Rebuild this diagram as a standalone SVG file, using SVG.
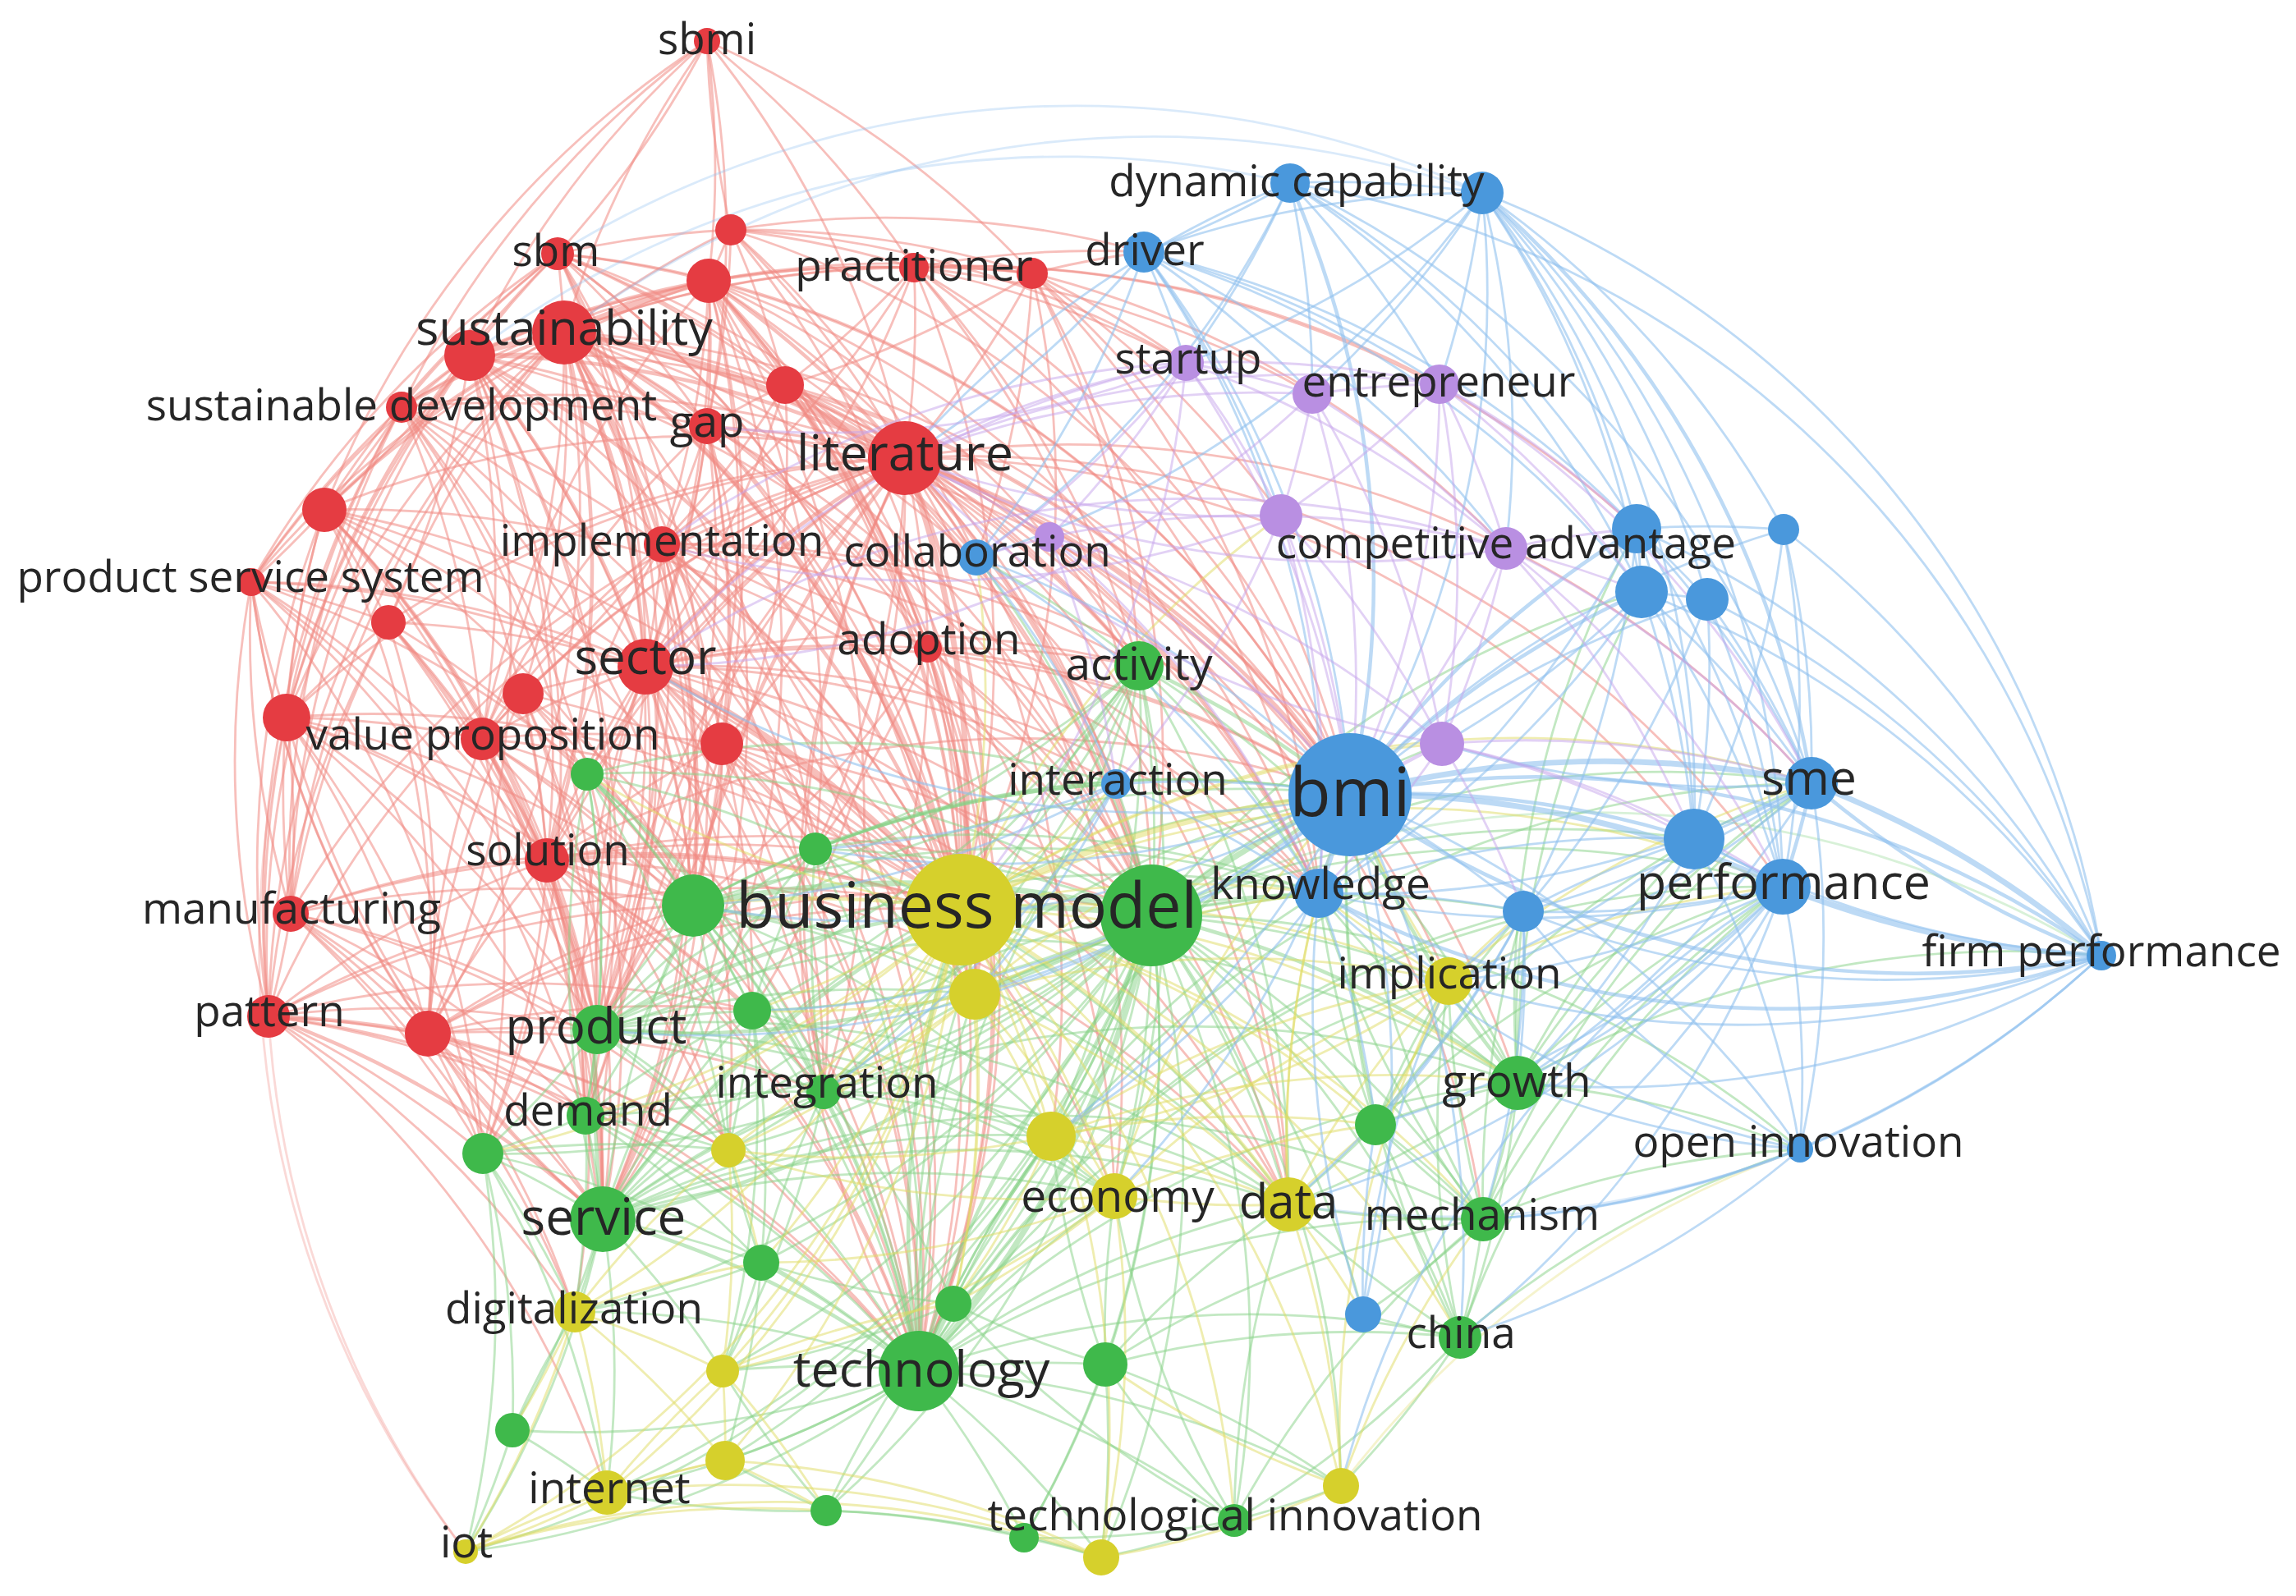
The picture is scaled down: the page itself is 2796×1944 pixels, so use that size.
<svg xmlns="http://www.w3.org/2000/svg" width="2796" height="1944" viewBox="0 0 2796 1944">
<style>
.e path{fill:none;stroke-width:2.8;stroke-opacity:.5}
.er path{stroke:#f08a84;stroke-opacity:.55}
.eg path{stroke:#86d286}
.eb path{stroke:#8dbfee;stroke-opacity:.58}
.ey path{stroke:#e0db62}
.ep path{stroke:#c6a3ec}
.e path.m{stroke-width:4.5}
.e path.h{stroke-width:7}
.e path.f{stroke-opacity:.32}
.nr{fill:#e53c42}.ng{fill:#3fb94b}.nb{fill:#4a98dc}.ny{fill:#d6d02c}.np{fill:#b98fe2}
text{font-family:"Open Sans","Noto Sans","DejaVu Sans",sans-serif;fill:#262626;text-anchor:middle;font-size:53px}
.t60{font-size:60px}.t55{font-size:55px}
</style>
<rect width="2796" height="1944" fill="#ffffff"/>
<g id="connectors">
<g class="e er">
<path d="M861 50A1200 1200 0 0 1 679 309"/><path d="M890 280A1200 1200 0 0 1 861 50"/><path d="M861 50A1200 1200 0 0 1 863 342"/><path d="M687 405A1200 1200 0 0 1 861 50"/><path d="M572 433A1200 1200 0 0 1 861 50"/><path d="M861 50A1200 1200 0 0 1 1113 326"/><path d="M861 50A1200 1200 0 0 1 1257 333"/><path d="M861 50A1200 1200 0 0 1 1102 558"/><path d="M861 50A1200 1200 0 0 1 861 519"/><path d="M395 621A1200 1200 0 0 1 861 50"/><path d="M489 496A1200 1200 0 0 1 861 50"/>
<path d="M679 309A1200 1200 0 0 1 687 405"/><path d="M572 433A1200 1200 0 0 1 679 309"/><path d="M679 309A1200 1200 0 0 1 863 342"/><path d="M679 309A1200 1200 0 0 1 890 280"/><path d="M489 496A1200 1200 0 0 1 679 309"/><path d="M679 309A1200 1200 0 0 1 861 519"/><path d="M679 309A1200 1200 0 0 1 1102 558"/><path d="M395 621A1200 1200 0 0 1 679 309"/><path d="M679 309A1200 1200 0 0 1 806 663"/><path d="M679 309A1200 1200 0 0 1 786 812"/><path d="M349 874A1200 1200 0 0 1 679 309"/><path d="M679 309A1200 1200 0 0 1 1170 1108"/><path d="M679 309A1200 1200 0 0 1 956 469"/><path d="M306 709A1200 1200 0 0 1 679 309"/>
<path d="M890 280A1200 1200 0 0 1 863 342"/><path d="M890 280A1200 1200 0 0 1 1113 326"/><path d="M890 280A1200 1200 0 0 1 1257 333"/><path d="M687 405A1200 1200 0 0 1 890 280"/><path d="M890 280A1200 1200 0 0 1 1102 558"/><path d="M890 280A1200 1200 0 0 1 956 469"/><path d="M890 280A1200 1200 0 0 1 861 519"/><path d="M890 280A1200 1200 0 0 1 1393 307"/>
<path class="h" d="M687 405A1200 1200 0 0 1 863 342"/><path class="m" d="M572 433A1200 1200 0 0 1 863 342"/><path class="m" d="M863 342A1200 1200 0 0 1 1102 558"/><path d="M863 342A1200 1200 0 0 1 861 519"/><path d="M863 342A1200 1200 0 0 1 956 469"/><path d="M863 342A1200 1200 0 0 1 1113 326"/><path d="M863 342A1200 1200 0 0 1 1257 333"/><path d="M863 342A1200 1200 0 0 1 806 663"/><path d="M863 342A1200 1200 0 0 1 786 812"/><path d="M863 342A1200 1200 0 0 1 1170 1108"/><path d="M395 621A1200 1200 0 0 1 863 342"/><path d="M489 496A1200 1200 0 0 1 863 342"/><path d="M863 342A1200 1200 0 0 1 1130 790"/><path d="M863 342A1200 1200 0 0 1 879 906"/><path d="M587 900A1200 1200 0 0 1 863 342"/><path d="M863 342A1200 1200 0 0 1 1402 1115"/><path d="M863 342A1200 1200 0 0 1 1644 968"/>
<path d="M1113 326A1200 1200 0 0 1 1257 333"/><path d="M1113 326A1200 1200 0 0 1 1102 558"/><path d="M1113 326A1200 1200 0 0 1 956 469"/><path d="M687 405A1200 1200 0 0 1 1113 326"/><path d="M572 433A1200 1200 0 0 1 1113 326"/><path d="M1113 326A1200 1200 0 0 1 1170 1108"/><path d="M1113 326A1200 1200 0 0 1 1644 968"/><path d="M1113 326A1200 1200 0 0 1 806 663"/><path d="M1113 326A1200 1200 0 0 1 1393 307"/><path d="M1113 326A1200 1200 0 0 1 786 812"/><path d="M1113 326A1200 1200 0 0 1 1598 480"/>
<path d="M1257 333A1200 1200 0 0 1 1102 558"/><path d="M1257 333A1200 1200 0 0 1 956 469"/><path d="M687 405A1200 1200 0 0 1 1257 333"/><path d="M1257 333A1200 1200 0 0 1 1170 1108"/><path d="M1257 333A1200 1200 0 0 1 1644 968"/><path d="M1257 333A1200 1200 0 0 1 1393 307"/><path d="M1257 333A1200 1200 0 0 1 1189 679"/><path d="M1257 333A1200 1200 0 0 1 1444 442"/>
<path class="h" d="M572 433A1200 1200 0 0 1 687 405"/><path d="M489 496A1200 1200 0 0 1 572 433"/><path d="M572 433A1200 1200 0 0 1 395 621"/><path d="M306 709A1200 1200 0 0 1 572 433"/><path d="M349 874A1200 1200 0 0 1 572 433"/><path d="M572 433A1200 1200 0 0 1 861 519"/><path class="m" d="M572 433A1200 1200 0 0 1 1102 558"/><path d="M572 433A1200 1200 0 0 1 806 663"/><path class="m" d="M572 433A1200 1200 0 0 1 786 812"/><path d="M572 433A1200 1200 0 0 1 587 900"/><path d="M572 433A1200 1200 0 0 1 666 1048"/><path d="M354 1113A1200 1200 0 0 1 572 433"/><path d="M327 1238A1200 1200 0 0 1 572 433"/><path class="m" d="M572 433A1200 1200 0 0 1 1170 1108"/><path d="M572 433A1200 1200 0 0 1 473 758"/><path d="M572 433A1200 1200 0 0 1 521 1259"/>
<path class="m" d="M489 496A1200 1200 0 0 1 687 405"/><path d="M687 405A1200 1200 0 0 1 861 519"/><path class="h" d="M687 405A1200 1200 0 0 1 1102 558"/><path d="M687 405A1200 1200 0 0 1 956 469"/><path d="M395 621A1200 1200 0 0 1 687 405"/><path class="m" d="M687 405A1200 1200 0 0 1 806 663"/><path class="m" d="M687 405A1200 1200 0 0 1 786 812"/><path d="M473 758A1200 1200 0 0 1 687 405"/><path d="M687 405A1200 1200 0 0 1 637 845"/><path d="M349 874A1200 1200 0 0 1 687 405"/><path d="M687 405A1200 1200 0 0 1 587 900"/><path d="M687 405A1200 1200 0 0 1 879 906"/><path class="m" d="M687 405A1200 1200 0 0 1 666 1048"/><path d="M354 1113A1200 1200 0 0 1 687 405"/><path d="M327 1238A1200 1200 0 0 1 687 405"/><path d="M687 405A1200 1200 0 0 1 521 1259"/><path class="h" d="M687 405A1200 1200 0 0 1 1170 1108"/><path d="M687 405A1200 1200 0 0 1 1402 1115"/><path d="M687 405A1200 1200 0 0 1 1644 968"/><path d="M687 405A1200 1200 0 0 1 727 1254"/><path d="M687 405A1200 1200 0 0 1 1130 790"/><path d="M306 709A1200 1200 0 0 1 687 405"/>
<path d="M489 496A1200 1200 0 0 1 395 621"/><path d="M306 709A1200 1200 0 0 1 489 496"/><path d="M489 496A1200 1200 0 0 1 861 519"/><path d="M489 496A1200 1200 0 0 1 1102 558"/><path d="M349 874A1200 1200 0 0 1 489 496"/><path d="M489 496A1200 1200 0 0 1 786 812"/><path d="M489 496A1200 1200 0 0 1 587 900"/><path d="M489 496A1200 1200 0 0 1 666 1048"/><path d="M354 1113A1200 1200 0 0 1 489 496"/><path d="M327 1238A1200 1200 0 0 1 489 496"/><path d="M489 496A1200 1200 0 0 1 1170 1108"/>
<path d="M956 469A1200 1200 0 0 1 1102 558"/><path d="M861 519A1200 1200 0 0 1 956 469"/><path d="M956 469A1200 1200 0 0 1 806 663"/><path d="M956 469A1200 1200 0 0 1 786 812"/><path d="M956 469A1200 1200 0 0 1 1130 790"/><path d="M956 469A1200 1200 0 0 1 1170 1108"/><path d="M956 469A1200 1200 0 0 1 1644 968"/><path d="M956 469A1200 1200 0 0 1 1189 679"/>
<path d="M861 519A1200 1200 0 0 1 1102 558"/><path d="M861 519A1200 1200 0 0 1 806 663"/><path d="M861 519A1200 1200 0 0 1 786 812"/><path d="M861 519A1200 1200 0 0 1 879 906"/><path d="M861 519A1200 1200 0 0 1 1170 1108"/><path d="M587 900A1200 1200 0 0 1 861 519"/><path d="M861 519A1200 1200 0 0 1 666 1048"/>
<path d="M806 663A1200 1200 0 0 1 1102 558"/><path class="m" d="M786 812A1200 1200 0 0 1 1102 558"/><path d="M1102 558A1200 1200 0 0 1 1130 790"/><path d="M1102 558A1200 1200 0 0 1 879 906"/><path d="M587 900A1200 1200 0 0 1 1102 558"/><path d="M637 845A1200 1200 0 0 1 1102 558"/><path d="M666 1048A1200 1200 0 0 1 1102 558"/><path class="h" d="M1102 558A1200 1200 0 0 1 1170 1108"/><path class="m" d="M1102 558A1200 1200 0 0 1 1402 1115"/><path class="m" d="M1102 558A1200 1200 0 0 1 1644 968"/><path d="M1102 558A1200 1200 0 0 1 1189 679"/><path d="M1102 558A1200 1200 0 0 1 1387 811"/><path d="M395 621A1200 1200 0 0 1 1102 558"/><path d="M473 758A1200 1200 0 0 1 1102 558"/><path d="M349 874A1200 1200 0 0 1 1102 558"/><path d="M327 1238A1200 1200 0 0 1 1102 558"/><path d="M354 1113A1200 1200 0 0 1 1102 558"/><path d="M1119 1670A1200 1200 0 0 1 1102 558"/><path d="M734 1485A1200 1200 0 0 1 1102 558"/><path d="M1102 558A1200 1200 0 0 1 1606 1088"/>
<path d="M395 621A1200 1200 0 0 1 306 709"/><path d="M395 621A1200 1200 0 0 1 473 758"/><path d="M349 874A1200 1200 0 0 1 395 621"/><path d="M395 621A1200 1200 0 0 1 587 900"/><path d="M395 621A1200 1200 0 0 1 786 812"/><path d="M395 621A1200 1200 0 0 1 666 1048"/><path d="M354 1113A1200 1200 0 0 1 395 621"/><path d="M327 1238A1200 1200 0 0 1 395 621"/><path d="M395 621A1200 1200 0 0 1 521 1259"/><path d="M395 621A1200 1200 0 0 1 1170 1108"/>
<path d="M806 663A1200 1200 0 0 1 786 812"/><path d="M806 663A1200 1200 0 0 1 1130 790"/><path d="M806 663A1200 1200 0 0 1 637 845"/><path d="M587 900A1200 1200 0 0 1 806 663"/><path d="M806 663A1200 1200 0 0 1 879 906"/><path d="M666 1048A1200 1200 0 0 1 806 663"/><path d="M806 663A1200 1200 0 0 1 1170 1108"/><path d="M806 663A1200 1200 0 0 1 1402 1115"/><path d="M806 663A1200 1200 0 0 1 1644 968"/>
<path d="M306 709A1200 1200 0 0 1 473 758"/><path d="M349 874A1200 1200 0 0 1 306 709"/><path d="M354 1113A1200 1200 0 0 1 306 709"/><path d="M327 1238A1200 1200 0 0 1 306 709"/><path d="M306 709A1200 1200 0 0 1 666 1048"/><path d="M521 1259A1200 1200 0 0 1 306 709"/><path d="M734 1485A1200 1200 0 0 1 306 709"/><path d="M306 709A1200 1200 0 0 1 786 812"/>
<path d="M349 874A1200 1200 0 0 1 473 758"/><path d="M473 758A1200 1200 0 0 1 587 900"/><path d="M473 758A1200 1200 0 0 1 786 812"/><path d="M473 758A1200 1200 0 0 1 666 1048"/><path d="M354 1113A1200 1200 0 0 1 473 758"/><path d="M327 1238A1200 1200 0 0 1 473 758"/><path d="M473 758A1200 1200 0 0 1 521 1259"/>
<path d="M786 812A1200 1200 0 0 1 1130 790"/><path d="M637 845A1200 1200 0 0 1 786 812"/><path d="M587 900A1200 1200 0 0 1 786 812"/><path d="M786 812A1200 1200 0 0 1 879 906"/><path d="M666 1048A1200 1200 0 0 1 786 812"/><path class="h" d="M786 812A1200 1200 0 0 1 1170 1108"/><path d="M786 812A1200 1200 0 0 1 1402 1115"/><path d="M786 812A1200 1200 0 0 1 1644 968"/><path d="M727 1254A1200 1200 0 0 1 786 812"/><path d="M734 1485A1200 1200 0 0 1 786 812"/><path d="M786 812A1200 1200 0 0 1 1119 1670"/><path d="M786 812A1200 1200 0 0 1 844 1103"/>
<path d="M637 845A1200 1200 0 0 1 587 900"/><path d="M637 845A1200 1200 0 0 1 666 1048"/><path d="M637 845A1200 1200 0 0 1 1170 1108"/><path d="M521 1259A1200 1200 0 0 1 637 845"/>
<path d="M349 874A1200 1200 0 0 1 354 1113"/><path d="M327 1238A1200 1200 0 0 1 349 874"/><path d="M349 874A1200 1200 0 0 1 666 1048"/><path d="M349 874A1200 1200 0 0 1 521 1259"/><path d="M349 874A1200 1200 0 0 1 587 900"/><path class="f" d="M567 1890A1200 1200 0 0 1 349 874"/><path d="M734 1485A1200 1200 0 0 1 349 874"/>
<path d="M587 900A1200 1200 0 0 1 666 1048"/><path d="M587 900A1200 1200 0 0 1 1170 1108"/><path d="M587 900A1200 1200 0 0 1 844 1103"/><path d="M587 900A1200 1200 0 0 1 727 1254"/><path d="M587 900A1200 1200 0 0 1 879 906"/><path d="M521 1259A1200 1200 0 0 1 587 900"/>
<path d="M879 906A1200 1200 0 0 1 1170 1108"/><path d="M666 1048A1200 1200 0 0 1 879 906"/><path d="M879 906A1200 1200 0 0 1 1402 1115"/><path d="M879 906A1200 1200 0 0 1 1119 1670"/>
<path class="m" d="M666 1048A1200 1200 0 0 1 844 1103"/><path class="m" d="M666 1048A1200 1200 0 0 1 1170 1108"/><path d="M666 1048A1200 1200 0 0 1 727 1254"/><path d="M521 1259A1200 1200 0 0 1 666 1048"/><path d="M666 1048A1200 1200 0 0 1 734 1485"/><path d="M666 1048A1200 1200 0 0 1 1119 1670"/><path d="M354 1113A1200 1200 0 0 1 666 1048"/><path d="M327 1238A1200 1200 0 0 1 666 1048"/>
<path d="M354 1113A1200 1200 0 0 1 327 1238"/><path d="M354 1113A1200 1200 0 0 1 521 1259"/><path d="M354 1113A1200 1200 0 0 1 1170 1108"/><path d="M354 1113A1200 1200 0 0 1 734 1485"/><path d="M354 1113A1200 1200 0 0 1 727 1254"/>
<path class="m" d="M327 1238A1200 1200 0 0 1 521 1259"/><path class="m" d="M327 1238A1200 1200 0 0 1 734 1485"/><path d="M327 1238A1200 1200 0 0 1 713 1359"/><path d="M327 1238A1200 1200 0 0 1 588 1405"/><path d="M327 1238A1200 1200 0 0 1 727 1254"/><path d="M327 1238A1200 1200 0 0 1 1170 1108"/><path d="M327 1238A1200 1200 0 0 1 1119 1670"/><path class="f" d="M567 1890A1200 1200 0 0 1 327 1238"/>
<path d="M521 1259A1200 1200 0 0 1 727 1254"/><path d="M521 1259A1200 1200 0 0 1 734 1485"/><path d="M521 1259A1200 1200 0 0 1 1170 1108"/><path d="M521 1259A1200 1200 0 0 1 844 1103"/><path d="M521 1259A1200 1200 0 0 1 713 1359"/><path d="M521 1259A1200 1200 0 0 1 1119 1670"/>
<path d="M1130 790A1200 1200 0 0 1 1170 1108"/><path d="M1130 790A1200 1200 0 0 1 1402 1115"/><path d="M1130 790A1200 1200 0 0 1 1644 968"/>
<path d="M863 342A1200 1200 0 0 1 1187 1211"/><path d="M863 342A1200 1200 0 0 1 727 1254"/><path d="M863 342A1200 1200 0 0 1 1119 1670"/><path d="M863 342A1200 1200 0 0 1 734 1485"/><path d="M863 342A1200 1200 0 0 1 1003 1330"/><path d="M863 342A1200 1200 0 0 1 1387 811"/><path d="M863 342A1200 1200 0 0 1 1606 1088"/><path d="M863 342A1200 1200 0 0 1 993 1034"/>
<path d="M687 405A1200 1200 0 0 1 844 1103"/><path d="M687 405A1200 1200 0 0 1 1187 1211"/><path d="M687 405A1200 1200 0 0 1 734 1485"/><path d="M687 405A1200 1200 0 0 1 1003 1330"/><path d="M687 405A1200 1200 0 0 1 1606 1088"/><path d="M687 405A1200 1200 0 0 1 1387 811"/><path d="M687 405A1200 1200 0 0 1 1569 1467"/><path d="M687 405A1200 1200 0 0 1 1357 1457"/><path d="M687 405A1200 1200 0 0 1 713 1359"/>
<path class="m" d="M1102 558A1200 1200 0 0 1 1187 1211"/><path d="M1102 558A1200 1200 0 0 1 916 1231"/><path d="M727 1254A1200 1200 0 0 1 1102 558"/><path d="M1003 1330A1200 1200 0 0 1 1102 558"/><path d="M1102 558A1200 1200 0 0 1 993 1034"/><path d="M715 943A1200 1200 0 0 1 1102 558"/><path class="m" d="M844 1103A1200 1200 0 0 1 1102 558"/><path d="M1102 558A1200 1200 0 0 1 1569 1467"/><path d="M1102 558A1200 1200 0 0 1 1357 1457"/><path d="M1102 558A1200 1200 0 0 1 1280 1384"/><path d="M1102 558A1200 1200 0 0 1 1359 955"/><path d="M1102 558A1200 1200 0 0 1 1848 1319"/><path d="M1102 558A1200 1200 0 0 1 1764 1195"/><path d="M1102 558A1200 1200 0 0 1 2206 954"/><path d="M1102 558A1200 1200 0 0 1 2171 1080"/><path d="M1102 558A1200 1200 0 0 1 2063 1022"/><path d="M1102 558A1200 1200 0 0 1 1806 1485"/>
<path d="M786 812A1200 1200 0 0 1 1187 1211"/><path d="M786 812A1200 1200 0 0 1 916 1231"/><path d="M786 812A1200 1200 0 0 1 1003 1330"/><path d="M786 812A1200 1200 0 0 1 993 1034"/><path d="M786 812A1200 1200 0 0 1 715 943"/><path d="M786 812A1200 1200 0 0 1 1569 1467"/><path d="M786 812A1200 1200 0 0 1 1357 1457"/><path d="M786 812A1200 1200 0 0 1 713 1359"/><path d="M786 812A1200 1200 0 0 1 588 1405"/><path d="M786 812A1200 1200 0 0 1 887 1401"/><path d="M786 812A1200 1200 0 0 1 1606 1088"/><path d="M786 812A1200 1200 0 0 1 1387 811"/><path d="M786 812A1200 1200 0 0 1 1359 955"/>
<path d="M806 663A1200 1200 0 0 1 1187 1211"/><path d="M806 663A1200 1200 0 0 1 727 1254"/><path d="M806 663A1200 1200 0 0 1 1003 1330"/><path d="M806 663A1200 1200 0 0 1 993 1034"/><path d="M806 663A1200 1200 0 0 1 844 1103"/><path d="M806 663A1200 1200 0 0 1 734 1485"/><path d="M806 663A1200 1200 0 0 1 1119 1670"/><path d="M806 663A1200 1200 0 0 1 1387 811"/><path d="M806 663A1200 1200 0 0 1 1606 1088"/>
<path d="M879 906A1200 1200 0 0 1 1187 1211"/><path d="M879 906A1200 1200 0 0 1 916 1231"/><path d="M879 906A1200 1200 0 0 1 727 1254"/><path d="M879 906A1200 1200 0 0 1 1003 1330"/><path d="M879 906A1200 1200 0 0 1 993 1034"/><path d="M879 906A1200 1200 0 0 1 844 1103"/><path d="M879 906A1200 1200 0 0 1 734 1485"/><path d="M879 906A1200 1200 0 0 1 1569 1467"/>
<path d="M956 469A1200 1200 0 0 1 1187 1211"/><path d="M956 469A1200 1200 0 0 1 1402 1115"/><path d="M956 469A1200 1200 0 0 1 727 1254"/><path d="M956 469A1200 1200 0 0 1 1387 811"/><path d="M956 469A1200 1200 0 0 1 1606 1088"/><path d="M956 469A1200 1200 0 0 1 1119 1670"/>
<path d="M861 519A1200 1200 0 0 1 844 1103"/><path d="M861 519A1200 1200 0 0 1 1402 1115"/><path d="M861 519A1200 1200 0 0 1 727 1254"/><path d="M861 519A1200 1200 0 0 1 1644 968"/><path d="M861 519A1200 1200 0 0 1 734 1485"/><path d="M861 519A1200 1200 0 0 1 1119 1670"/>
<path d="M1130 790A1200 1200 0 0 1 1187 1211"/><path d="M1130 790A1200 1200 0 0 1 993 1034"/><path d="M1130 790A1200 1200 0 0 1 844 1103"/><path d="M1130 790A1200 1200 0 0 1 1387 811"/><path d="M1130 790A1200 1200 0 0 1 1606 1088"/><path d="M1130 790A1200 1200 0 0 1 1003 1330"/><path d="M1130 790A1200 1200 0 0 1 1569 1467"/><path d="M1130 790A1200 1200 0 0 1 1119 1670"/>
<path d="M637 845A1200 1200 0 0 1 844 1103"/><path d="M637 845A1200 1200 0 0 1 727 1254"/><path d="M637 845A1200 1200 0 0 1 734 1485"/><path d="M637 845A1200 1200 0 0 1 715 943"/><path d="M637 845A1200 1200 0 0 1 1119 1670"/>
<path d="M587 900A1200 1200 0 0 1 734 1485"/><path d="M587 900A1200 1200 0 0 1 713 1359"/><path d="M587 900A1200 1200 0 0 1 588 1405"/><path d="M587 900A1200 1200 0 0 1 1119 1670"/><path d="M587 900A1200 1200 0 0 1 715 943"/><path d="M587 900A1200 1200 0 0 1 887 1401"/>
<path d="M666 1048A1200 1200 0 0 1 713 1359"/><path d="M666 1048A1200 1200 0 0 1 588 1405"/><path d="M666 1048A1200 1200 0 0 1 887 1401"/><path d="M666 1048A1200 1200 0 0 1 916 1231"/><path d="M666 1048A1200 1200 0 0 1 1003 1330"/><path d="M666 1048A1200 1200 0 0 1 993 1034"/><path d="M666 1048A1200 1200 0 0 1 1402 1115"/><path d="M666 1048A1200 1200 0 0 1 1569 1467"/><path d="M666 1048A1200 1200 0 0 1 1644 968"/><path d="M666 1048A1200 1200 0 0 1 700 1598"/>
<path d="M354 1113A1200 1200 0 0 1 713 1359"/><path d="M354 1113A1200 1200 0 0 1 588 1405"/><path d="M354 1113A1200 1200 0 0 1 844 1103"/><path d="M354 1113A1200 1200 0 0 1 1119 1670"/><path d="M354 1113A1200 1200 0 0 1 700 1598"/>
<path d="M327 1238A1200 1200 0 0 1 887 1401"/><path d="M327 1238A1200 1200 0 0 1 916 1231"/><path d="M327 1238A1200 1200 0 0 1 844 1103"/><path d="M327 1238A1200 1200 0 0 1 700 1598"/><path d="M327 1238A1200 1200 0 0 1 739 1818"/>
<path d="M521 1259A1200 1200 0 0 1 588 1405"/><path d="M521 1259A1200 1200 0 0 1 887 1401"/><path d="M521 1259A1200 1200 0 0 1 916 1231"/><path d="M521 1259A1200 1200 0 0 1 700 1598"/><path d="M521 1259A1200 1200 0 0 1 1003 1330"/><path d="M521 1259A1200 1200 0 0 1 1402 1115"/>
<path d="M395 621A1200 1200 0 0 1 727 1254"/><path d="M395 621A1200 1200 0 0 1 734 1485"/><path d="M395 621A1200 1200 0 0 1 844 1103"/><path d="M395 621A1200 1200 0 0 1 1402 1115"/><path d="M395 621A1200 1200 0 0 1 1119 1670"/>
<path d="M489 496A1200 1200 0 0 1 727 1254"/><path d="M489 496A1200 1200 0 0 1 734 1485"/><path d="M489 496A1200 1200 0 0 1 844 1103"/><path d="M489 496A1200 1200 0 0 1 1119 1670"/>
<path d="M473 758A1200 1200 0 0 1 727 1254"/><path d="M473 758A1200 1200 0 0 1 734 1485"/><path d="M473 758A1200 1200 0 0 1 844 1103"/>
<path d="M349 874A1200 1200 0 0 1 727 1254"/><path d="M349 874A1200 1200 0 0 1 713 1359"/><path d="M349 874A1200 1200 0 0 1 588 1405"/><path d="M349 874A1200 1200 0 0 1 1119 1670"/><path d="M349 874A1200 1200 0 0 1 844 1103"/><path d="M349 874A1200 1200 0 0 1 1170 1108"/>
<path d="M306 709A1200 1200 0 0 1 727 1254"/><path d="M306 709A1200 1200 0 0 1 713 1359"/><path d="M306 709A1200 1200 0 0 1 588 1405"/><path d="M306 709A1200 1200 0 0 1 1170 1108"/><path d="M306 709A1200 1200 0 0 1 1119 1670"/>
<path d="M1113 326A1200 1200 0 0 1 1402 1115"/><path d="M1113 326A1200 1200 0 0 1 1387 811"/><path d="M1113 326A1200 1200 0 0 1 1606 1088"/><path d="M1113 326A1200 1200 0 0 1 1444 442"/><path d="M1113 326A1200 1200 0 0 1 1753 468"/><path d="M1113 326A1200 1200 0 0 1 1993 644"/>
<path d="M1257 333A1200 1200 0 0 1 1387 811"/><path d="M1257 333A1200 1200 0 0 1 1560 628"/><path d="M1257 333A1200 1200 0 0 1 1834 668"/><path d="M1257 333A1200 1200 0 0 1 1606 1088"/><path d="M1257 333A1200 1200 0 0 1 1402 1115"/>
<path d="M679 309A1200 1200 0 0 1 727 1254"/><path d="M679 309A1200 1200 0 0 1 734 1485"/><path d="M679 309A1200 1200 0 0 1 1119 1670"/><path d="M679 309A1200 1200 0 0 1 1402 1115"/><path d="M679 309A1200 1200 0 0 1 1644 968"/>
<path d="M572 433A1200 1200 0 0 1 727 1254"/><path d="M572 433A1200 1200 0 0 1 713 1359"/><path d="M572 433A1200 1200 0 0 1 588 1405"/><path d="M572 433A1200 1200 0 0 1 1119 1670"/><path d="M572 433A1200 1200 0 0 1 844 1103"/><path d="M572 433A1200 1200 0 0 1 1644 968"/><path d="M572 433A1200 1200 0 0 1 1402 1115"/>
<path d="M890 280A1200 1200 0 0 1 1170 1108"/><path d="M890 280A1200 1200 0 0 1 1644 968"/><path d="M890 280A1200 1200 0 0 1 1189 679"/><path d="M890 280A1200 1200 0 0 1 1444 442"/>
</g>
<g class="e eg">
<path class="h" d="M844 1103A1200 1200 0 0 1 1402 1115"/><path class="m" d="M1402 1115A1200 1200 0 0 1 727 1254"/><path class="m" d="M1402 1115A1200 1200 0 0 1 734 1485"/><path class="h" d="M1402 1115A1200 1200 0 0 1 1119 1670"/><path d="M1387 811A1200 1200 0 0 1 1402 1115"/><path d="M1402 1115A1200 1200 0 0 1 1003 1330"/><path d="M1402 1115A1200 1200 0 0 1 713 1359"/><path d="M1402 1115A1200 1200 0 0 1 916 1231"/><path d="M993 1034A1200 1200 0 0 1 1402 1115"/><path d="M715 943A1200 1200 0 0 1 1402 1115"/><path d="M1402 1115A1200 1200 0 0 1 1187 1211"/><path d="M1402 1115A1200 1200 0 0 1 1280 1384"/><path d="M1402 1115A1200 1200 0 0 1 1357 1457"/><path d="M1402 1115A1200 1200 0 0 1 1569 1467"/><path class="m" d="M1402 1115A1200 1200 0 0 1 1848 1319"/><path d="M1402 1115A1200 1200 0 0 1 1806 1485"/><path d="M1402 1115A1200 1200 0 0 1 1778 1629"/><path d="M1402 1115A1200 1200 0 0 1 1675 1370"/><path d="M1402 1115A1200 1200 0 0 1 927 1538"/><path d="M1402 1115A1200 1200 0 0 1 1161 1588"/><path d="M1402 1115A1200 1200 0 0 1 1346 1662"/><path d="M1402 1115A1200 1200 0 0 1 700 1598"/><path d="M1402 1115A1200 1200 0 0 1 1503 1852"/><path d="M1402 1115A1200 1200 0 0 1 1006 1840"/><path d="M1402 1115A1200 1200 0 0 1 880 1670"/><path d="M1402 1115A1200 1200 0 0 1 1606 1088"/><path class="h" d="M1402 1115A1200 1200 0 0 1 1644 968"/><path d="M1402 1115A1200 1200 0 0 1 1764 1195"/><path d="M1359 955A1200 1200 0 0 1 1402 1115"/><path d="M1402 1115A1200 1200 0 0 1 2171 1080"/><path d="M1402 1115A1200 1200 0 0 1 2206 954"/><path class="h" d="M1170 1108A1200 1200 0 0 1 1402 1115"/>
<path d="M1402 1115A1200 1200 0 0 1 2063 1022"/><path d="M1402 1115A1200 1200 0 0 1 1855 1110"/><path class="f" d="M1402 1115A1200 1200 0 0 1 2559 1164"/><path d="M1402 1115A1200 1200 0 0 1 2192 1400"/><path d="M1402 1115A1200 1200 0 0 1 1999 721"/><path d="M1402 1115A1200 1200 0 0 1 1756 906"/><path d="M1402 1115A1200 1200 0 0 1 887 1401"/><path d="M1402 1115A1200 1200 0 0 1 588 1405"/><path d="M1402 1115A1200 1200 0 0 1 567 1890"/><path d="M1402 1115A1200 1200 0 0 1 739 1818"/><path d="M1402 1115A1200 1200 0 0 1 883 1779"/><path d="M1402 1115A1200 1200 0 0 1 1633 1810"/><path d="M1402 1115A1200 1200 0 0 1 1341 1897"/><path d="M1402 1115A1200 1200 0 0 1 1247 1873"/><path d="M1402 1115A1200 1200 0 0 1 1660 1601"/><path d="M1189 679A1200 1200 0 0 1 1402 1115"/>
<path class="m" d="M734 1485A1200 1200 0 0 1 1119 1670"/><path d="M727 1254A1200 1200 0 0 1 1119 1670"/><path d="M700 1598A1200 1200 0 0 1 1119 1670"/><path d="M1119 1670A1200 1200 0 0 1 739 1818"/><path d="M1119 1670A1200 1200 0 0 1 567 1890"/><path d="M1119 1670A1200 1200 0 0 1 624 1742"/><path d="M1119 1670A1200 1200 0 0 1 883 1779"/><path d="M1119 1670A1200 1200 0 0 1 1006 1840"/><path d="M1119 1670A1200 1200 0 0 1 1247 1873"/><path d="M1119 1670A1200 1200 0 0 1 1341 1897"/><path d="M1119 1670A1200 1200 0 0 1 1503 1852"/><path d="M1119 1670A1200 1200 0 0 1 1633 1810"/><path d="M1119 1670A1200 1200 0 0 1 1346 1662"/><path d="M1119 1670A1200 1200 0 0 1 1778 1629"/><path d="M1119 1670A1200 1200 0 0 1 1806 1485"/><path d="M1119 1670A1200 1200 0 0 1 1569 1467"/><path d="M1119 1670A1200 1200 0 0 1 1357 1457"/><path d="M927 1538A1200 1200 0 0 1 1119 1670"/><path d="M1161 1588A1200 1200 0 0 1 1119 1670"/><path d="M880 1670A1200 1200 0 0 1 1119 1670"/><path d="M713 1359A1200 1200 0 0 1 1119 1670"/><path d="M588 1405A1200 1200 0 0 1 1119 1670"/><path d="M1003 1330A1200 1200 0 0 1 1119 1670"/><path class="m" d="M1119 1670A1200 1200 0 0 1 1644 968"/><path d="M1119 1670A1200 1200 0 0 1 1848 1319"/><path d="M844 1103A1200 1200 0 0 1 1119 1670"/><path class="m" d="M1119 1670A1200 1200 0 0 1 1170 1108"/><path d="M1119 1670A1200 1200 0 0 1 1606 1088"/>
<path d="M1119 1670A1200 1200 0 0 1 2171 1080"/><path d="M1119 1670A1200 1200 0 0 1 2206 954"/><path d="M1119 1670A1200 1200 0 0 1 1855 1110"/><path d="M1119 1670A1200 1200 0 0 1 1764 1195"/><path d="M1119 1670A1200 1200 0 0 1 1280 1384"/><path d="M1119 1670A1200 1200 0 0 1 1187 1211"/><path d="M916 1231A1200 1200 0 0 1 1119 1670"/><path d="M993 1034A1200 1200 0 0 1 1119 1670"/><path d="M715 943A1200 1200 0 0 1 1119 1670"/><path d="M1119 1670A1200 1200 0 0 1 1387 811"/><path d="M1119 1670A1200 1200 0 0 1 1359 955"/>
<path class="m" d="M734 1485A1200 1200 0 0 1 727 1254"/><path d="M713 1359A1200 1200 0 0 1 734 1485"/><path d="M588 1405A1200 1200 0 0 1 734 1485"/><path d="M734 1485A1200 1200 0 0 1 700 1598"/><path d="M734 1485A1200 1200 0 0 1 887 1401"/><path d="M734 1485A1200 1200 0 0 1 927 1538"/><path d="M734 1485A1200 1200 0 0 1 739 1818"/><path d="M734 1485A1200 1200 0 0 1 567 1890"/><path d="M734 1485A1200 1200 0 0 1 624 1742"/><path d="M734 1485A1200 1200 0 0 1 880 1670"/><path d="M734 1485A1200 1200 0 0 1 1003 1330"/><path d="M734 1485A1200 1200 0 0 1 916 1231"/><path d="M734 1485A1200 1200 0 0 1 844 1103"/><path d="M734 1485A1200 1200 0 0 1 715 943"/><path class="m" d="M734 1485A1200 1200 0 0 1 1170 1108"/><path d="M734 1485A1200 1200 0 0 1 1644 968"/><path d="M734 1485A1200 1200 0 0 1 1569 1467"/>
<path d="M734 1485A1200 1200 0 0 1 1606 1088"/><path d="M734 1485A1200 1200 0 0 1 1848 1319"/><path d="M734 1485A1200 1200 0 0 1 1357 1457"/><path d="M734 1485A1200 1200 0 0 1 1280 1384"/><path d="M734 1485A1200 1200 0 0 1 1187 1211"/><path d="M734 1485A1200 1200 0 0 1 993 1034"/><path d="M734 1485A1200 1200 0 0 1 1806 1485"/>
<path d="M727 1254A1200 1200 0 0 1 713 1359"/><path d="M727 1254A1200 1200 0 0 1 588 1405"/><path d="M727 1254A1200 1200 0 0 1 916 1231"/><path d="M727 1254A1200 1200 0 0 1 1003 1330"/><path d="M727 1254A1200 1200 0 0 1 887 1401"/><path d="M727 1254A1200 1200 0 0 1 844 1103"/><path d="M715 943A1200 1200 0 0 1 727 1254"/><path d="M727 1254A1200 1200 0 0 1 993 1034"/><path class="m" d="M727 1254A1200 1200 0 0 1 1170 1108"/><path d="M727 1254A1200 1200 0 0 1 1644 968"/>
<path d="M727 1254A1200 1200 0 0 1 1606 1088"/><path d="M727 1254A1200 1200 0 0 1 1569 1467"/><path d="M727 1254A1200 1200 0 0 1 1357 1457"/><path d="M727 1254A1200 1200 0 0 1 1280 1384"/><path d="M727 1254A1200 1200 0 0 1 1187 1211"/><path d="M727 1254A1200 1200 0 0 1 1848 1319"/>
<path d="M844 1103A1200 1200 0 0 1 1606 1088"/><path d="M844 1103A1200 1200 0 0 1 1644 968"/><path d="M844 1103A1200 1200 0 0 1 1569 1467"/><path d="M844 1103A1200 1200 0 0 1 1357 1457"/><path d="M844 1103A1200 1200 0 0 1 1187 1211"/><path d="M844 1103A1200 1200 0 0 1 887 1401"/><path d="M844 1103A1200 1200 0 0 1 1359 955"/>
<path class="m" d="M1387 811A1200 1200 0 0 1 1644 968"/><path d="M1387 811A1200 1200 0 0 1 1606 1088"/><path d="M1387 811A1200 1200 0 0 1 1003 1330"/><path d="M1387 811A1200 1200 0 0 1 993 1034"/><path d="M1189 679A1200 1200 0 0 1 1387 811"/><path d="M1387 811A1200 1200 0 0 1 1359 955"/><path d="M1387 811A1200 1200 0 0 1 1170 1108"/>
<path d="M1387 811A1200 1200 0 0 1 1569 1467"/><path d="M1387 811A1200 1200 0 0 1 1357 1457"/><path d="M1387 811A1200 1200 0 0 1 1187 1211"/><path d="M1387 811A1200 1200 0 0 1 1280 1384"/><path d="M1387 811A1200 1200 0 0 1 1848 1319"/><path d="M1387 811A1200 1200 0 0 1 844 1103"/><path d="M1387 811A1200 1200 0 0 1 916 1231"/><path d="M1387 811A1200 1200 0 0 1 727 1254"/>
<path d="M1003 1330A1200 1200 0 0 1 1644 968"/><path d="M1003 1330A1200 1200 0 0 1 1606 1088"/><path d="M1003 1330A1200 1200 0 0 1 1569 1467"/><path d="M1003 1330A1200 1200 0 0 1 1357 1457"/><path d="M1003 1330A1200 1200 0 0 1 1280 1384"/><path d="M1003 1330A1200 1200 0 0 1 1161 1588"/><path d="M1003 1330A1200 1200 0 0 1 880 1670"/>
<path d="M916 1231A1200 1200 0 0 1 887 1401"/><path d="M916 1231A1200 1200 0 0 1 993 1034"/><path d="M916 1231A1200 1200 0 0 1 927 1538"/><path d="M916 1231A1200 1200 0 0 1 880 1670"/><path d="M916 1231A1200 1200 0 0 1 1357 1457"/>
<path d="M993 1034A1200 1200 0 0 1 1606 1088"/><path d="M993 1034A1200 1200 0 0 1 1569 1467"/><path d="M993 1034A1200 1200 0 0 1 1187 1211"/><path d="M993 1034A1200 1200 0 0 1 1359 955"/><path d="M993 1034A1200 1200 0 0 1 1644 968"/>
<path d="M715 943A1200 1200 0 0 1 887 1401"/><path d="M715 943A1200 1200 0 0 1 916 1231"/><path d="M715 943A1200 1200 0 0 1 713 1359"/><path d="M715 943A1200 1200 0 0 1 993 1034"/><path d="M715 943A1200 1200 0 0 1 1003 1330"/><path d="M715 943A1200 1200 0 0 1 1359 955"/>
<path d="M713 1359A1200 1200 0 0 1 588 1405"/><path d="M713 1359A1200 1200 0 0 1 887 1401"/><path d="M713 1359A1200 1200 0 0 1 916 1231"/><path d="M713 1359A1200 1200 0 0 1 1003 1330"/><path d="M713 1359A1200 1200 0 0 1 927 1538"/><path d="M713 1359A1200 1200 0 0 1 700 1598"/>
<path d="M588 1405A1200 1200 0 0 1 887 1401"/><path d="M588 1405A1200 1200 0 0 1 700 1598"/><path d="M588 1405A1200 1200 0 0 1 624 1742"/><path d="M588 1405A1200 1200 0 0 1 739 1818"/><path d="M588 1405A1200 1200 0 0 1 567 1890"/>
<path d="M1848 1319A1200 1200 0 0 1 1806 1485"/><path d="M1848 1319A1200 1200 0 0 1 1778 1629"/><path d="M1675 1370A1200 1200 0 0 1 1848 1319"/><path d="M1848 1319A1200 1200 0 0 1 1569 1467"/><path d="M1764 1195A1200 1200 0 0 1 1848 1319"/><path class="m" d="M1848 1319A1200 1200 0 0 1 1644 968"/><path d="M1848 1319A1200 1200 0 0 1 2171 1080"/><path d="M1848 1319A1200 1200 0 0 1 2206 954"/><path d="M1848 1319A1200 1200 0 0 1 2192 1400"/><path d="M1848 1319A1200 1200 0 0 1 2559 1164"/><path d="M1848 1319A1200 1200 0 0 1 2063 1022"/><path d="M1848 1319A1200 1200 0 0 1 1606 1088"/>
<path d="M1848 1319A1200 1200 0 0 1 1855 1110"/><path d="M1848 1319A1200 1200 0 0 1 1999 721"/><path d="M1848 1319A1200 1200 0 0 1 1993 644"/>
<path d="M1806 1485A1200 1200 0 0 1 1778 1629"/><path d="M1806 1485A1200 1200 0 0 1 1569 1467"/><path d="M1806 1485A1200 1200 0 0 1 1675 1370"/><path d="M1806 1485A1200 1200 0 0 1 1764 1195"/><path d="M1806 1485A1200 1200 0 0 1 1644 968"/><path d="M1806 1485A1200 1200 0 0 1 2171 1080"/><path d="M1806 1485A1200 1200 0 0 1 1660 1601"/>
<path d="M1806 1485A1200 1200 0 0 1 2206 954"/><path d="M1806 1485A1200 1200 0 0 1 1855 1110"/><path d="M1806 1485A1200 1200 0 0 1 1606 1088"/><path d="M1806 1485A1200 1200 0 0 1 2192 1400"/>
<path d="M1675 1370A1200 1200 0 0 1 1806 1485"/><path d="M1675 1370A1200 1200 0 0 1 1778 1629"/><path d="M1675 1370A1200 1200 0 0 1 2171 1080"/><path d="M1675 1370A1200 1200 0 0 1 2206 954"/><path d="M1675 1370A1200 1200 0 0 1 1855 1110"/><path d="M1675 1370A1200 1200 0 0 1 1606 1088"/>
<path d="M1778 1629A1200 1200 0 0 1 1660 1601"/><path d="M1778 1629A1200 1200 0 0 1 1569 1467"/><path d="M1778 1629A1200 1200 0 0 1 1633 1810"/><path d="M1778 1629A1200 1200 0 0 1 1503 1852"/><path d="M1778 1629A1200 1200 0 0 1 1764 1195"/><path d="M1778 1629A1200 1200 0 0 1 1644 968"/><path d="M1778 1629A1200 1200 0 0 1 2171 1080"/><path d="M1778 1629A1200 1200 0 0 1 2192 1400"/>
<path d="M1503 1852A1200 1200 0 0 1 1247 1873"/><path d="M1503 1852A1200 1200 0 0 1 1341 1897"/><path d="M1633 1810A1200 1200 0 0 1 1503 1852"/><path d="M1503 1852A1200 1200 0 0 1 1346 1662"/><path d="M1503 1852A1200 1200 0 0 1 1569 1467"/><path d="M1503 1852A1200 1200 0 0 1 1806 1485"/><path d="M1503 1852A1200 1200 0 0 1 1357 1457"/><path d="M1503 1852A1200 1200 0 0 1 1161 1588"/>
<path d="M844 1103A1200 1200 0 0 1 916 1231"/><path d="M844 1103A1200 1200 0 0 1 1003 1330"/><path d="M844 1103A1200 1200 0 0 1 993 1034"/><path d="M715 943A1200 1200 0 0 1 844 1103"/><path d="M844 1103A1200 1200 0 0 1 713 1359"/>
<path d="M1346 1662A1200 1200 0 0 1 1357 1457"/><path d="M1346 1662A1200 1200 0 0 1 1569 1467"/><path d="M1346 1662A1200 1200 0 0 1 1247 1873"/><path d="M1346 1662A1200 1200 0 0 1 1280 1384"/><path d="M1346 1662A1200 1200 0 0 1 1778 1629"/><path d="M1346 1662A1200 1200 0 0 1 1161 1588"/><path d="M1346 1662A1200 1200 0 0 1 1633 1810"/><path d="M1346 1662A1200 1200 0 0 1 1341 1897"/><path d="M1346 1662A1200 1200 0 0 1 1806 1485"/>
<path d="M1161 1588A1200 1200 0 0 1 927 1538"/><path d="M1161 1588A1200 1200 0 0 1 880 1670"/><path d="M1161 1588A1200 1200 0 0 1 1357 1457"/><path d="M1161 1588A1200 1200 0 0 1 1280 1384"/>
<path d="M927 1538A1200 1200 0 0 1 880 1670"/><path d="M927 1538A1200 1200 0 0 1 700 1598"/><path d="M927 1538A1200 1200 0 0 1 887 1401"/><path d="M927 1538A1200 1200 0 0 1 1003 1330"/><path d="M927 1538A1200 1200 0 0 1 883 1779"/>
<path d="M624 1742A1200 1200 0 0 1 739 1818"/><path d="M624 1742A1200 1200 0 0 1 567 1890"/><path d="M624 1742A1200 1200 0 0 1 700 1598"/>
<path d="M1006 1840A1200 1200 0 0 1 739 1818"/><path d="M1006 1840A1200 1200 0 0 1 883 1779"/><path d="M1006 1840A1200 1200 0 0 1 1247 1873"/><path d="M1006 1840A1200 1200 0 0 1 1341 1897"/><path d="M1006 1840A1200 1200 0 0 1 880 1670"/><path d="M1006 1840A1200 1200 0 0 1 1161 1588"/><path d="M1247 1873A1200 1200 0 0 1 1341 1897"/>
<path d="M1675 1370A1200 1200 0 0 1 1569 1467"/><path d="M1675 1370A1200 1200 0 0 1 1764 1195"/><path d="M1675 1370A1200 1200 0 0 1 1644 968"/>
<path d="M1003 1330A1200 1200 0 0 1 916 1231"/><path d="M1003 1330A1200 1200 0 0 1 887 1401"/><path d="M1003 1330A1200 1200 0 0 1 993 1034"/>
</g>
<g class="e ey">
<path class="m" d="M1170 1108A1200 1200 0 0 1 1569 1467"/><path d="M1170 1108A1200 1200 0 0 1 1357 1457"/><path d="M1170 1108A1200 1200 0 0 1 700 1598"/><path d="M1170 1108A1200 1200 0 0 1 739 1818"/><path d="M1170 1108A1200 1200 0 0 1 567 1890"/><path d="M1170 1108A1200 1200 0 0 1 1187 1211"/><path d="M1170 1108A1200 1200 0 0 1 887 1401"/><path d="M1170 1108A1200 1200 0 0 1 1280 1384"/><path d="M1170 1108A1200 1200 0 0 1 880 1670"/><path d="M1170 1108A1200 1200 0 0 1 883 1779"/><path d="M1170 1108A1200 1200 0 0 1 1633 1810"/><path d="M1170 1108A1200 1200 0 0 1 1341 1897"/><path d="M1170 1108A1200 1200 0 0 1 1764 1195"/><path class="h" d="M1170 1108A1200 1200 0 0 1 1644 968"/><path d="M1170 1108A1200 1200 0 0 1 1606 1088"/><path d="M1170 1108A1200 1200 0 0 1 916 1231"/><path d="M1170 1108A1200 1200 0 0 1 1003 1330"/><path d="M993 1034A1200 1200 0 0 1 1170 1108"/><path d="M1170 1108A1200 1200 0 0 1 1806 1485"/><path d="M1170 1108A1200 1200 0 0 1 1778 1629"/><path d="M1170 1108A1200 1200 0 0 1 1848 1319"/><path d="M1170 1108A1200 1200 0 0 1 1503 1852"/><path d="M1170 1108A1200 1200 0 0 1 1161 1588"/><path d="M1170 1108A1200 1200 0 0 1 927 1538"/><path d="M1170 1108A1200 1200 0 0 1 713 1359"/><path d="M1170 1108A1200 1200 0 0 1 588 1405"/><path d="M1170 1108A1200 1200 0 0 1 2206 954"/><path d="M1170 1108A1200 1200 0 0 1 2171 1080"/><path d="M1359 955A1200 1200 0 0 1 1170 1108"/><path d="M1189 679A1200 1200 0 0 1 1170 1108"/>
<path d="M1170 1108A1200 1200 0 0 1 715 943"/><path class="m" d="M844 1103A1200 1200 0 0 1 1170 1108"/><path d="M1170 1108A1200 1200 0 0 1 1675 1370"/><path d="M1170 1108A1200 1200 0 0 1 1560 628"/><path d="M1170 1108A1200 1200 0 0 1 1756 906"/>
<path d="M1187 1211A1200 1200 0 0 1 1280 1384"/><path d="M1187 1211A1200 1200 0 0 1 1357 1457"/><path d="M1187 1211A1200 1200 0 0 1 1569 1467"/><path d="M1187 1211A1200 1200 0 0 1 1003 1330"/><path d="M1187 1211A1200 1200 0 0 1 887 1401"/><path d="M1187 1211A1200 1200 0 0 1 916 1231"/><path d="M1187 1211A1200 1200 0 0 1 1161 1588"/><path d="M1187 1211A1200 1200 0 0 1 1764 1195"/><path d="M1187 1211A1200 1200 0 0 1 1606 1088"/><path d="M1187 1211A1200 1200 0 0 1 1644 968"/>
<path d="M1569 1467A1200 1200 0 0 1 1357 1457"/><path d="M1569 1467A1200 1200 0 0 1 1764 1195"/><path d="M1569 1467A1200 1200 0 0 1 1633 1810"/><path d="M1569 1467A1200 1200 0 0 1 1660 1601"/><path d="M1280 1384A1200 1200 0 0 1 1569 1467"/><path d="M1569 1467A1200 1200 0 0 1 1644 968"/><path d="M1569 1467A1200 1200 0 0 1 1606 1088"/><path d="M1569 1467A1200 1200 0 0 1 1675 1370"/>
<path d="M1357 1457A1200 1200 0 0 1 1280 1384"/><path d="M1357 1457A1200 1200 0 0 1 1341 1897"/><path d="M1357 1457A1200 1200 0 0 1 1161 1588"/><path d="M1357 1457A1200 1200 0 0 1 887 1401"/><path d="M1357 1457A1200 1200 0 0 1 927 1538"/><path d="M1357 1457A1200 1200 0 0 1 880 1670"/><path d="M1357 1457A1200 1200 0 0 1 1764 1195"/><path d="M1357 1457A1200 1200 0 0 1 1644 968"/><path d="M1357 1457A1200 1200 0 0 1 1675 1370"/>
<path d="M1280 1384A1200 1200 0 0 1 1764 1195"/><path d="M1280 1384A1200 1200 0 0 1 1675 1370"/><path d="M1280 1384A1200 1200 0 0 1 1848 1319"/><path d="M1280 1384A1200 1200 0 0 1 1161 1588"/><path d="M1280 1384A1200 1200 0 0 1 887 1401"/>
<path d="M700 1598A1200 1200 0 0 1 739 1818"/><path d="M700 1598A1200 1200 0 0 1 567 1890"/><path d="M700 1598A1200 1200 0 0 1 880 1670"/><path d="M700 1598A1200 1200 0 0 1 883 1779"/><path d="M700 1598A1200 1200 0 0 1 887 1401"/><path d="M700 1598A1200 1200 0 0 1 927 1538"/><path d="M700 1598A1200 1200 0 0 1 624 1742"/>
<path d="M739 1818A1200 1200 0 0 1 567 1890"/><path d="M739 1818A1200 1200 0 0 1 883 1779"/><path d="M739 1818A1200 1200 0 0 1 880 1670"/><path d="M567 1890A1200 1200 0 0 1 1341 1897"/><path d="M739 1818A1200 1200 0 0 1 1341 1897"/>
<path d="M567 1890A1200 1200 0 0 1 883 1779"/><path d="M567 1890A1200 1200 0 0 1 1006 1840"/>
<path d="M1633 1810A1200 1200 0 0 1 1341 1897"/><path d="M1633 1810A1200 1200 0 0 1 1764 1195"/><path d="M1633 1810A1200 1200 0 0 1 1346 1662"/><path d="M1633 1810A1200 1200 0 0 1 1806 1485"/><path class="f" d="M1633 1810A1200 1200 0 0 1 2192 1400"/>
<path d="M1764 1195A1200 1200 0 0 1 1644 968"/><path d="M1764 1195A1200 1200 0 0 1 1606 1088"/><path d="M1764 1195A1200 1200 0 0 1 1280 1384"/><path d="M1764 1195A1200 1200 0 0 1 1675 1370"/><path d="M1764 1195A1200 1200 0 0 1 1855 1110"/><path d="M1764 1195A1200 1200 0 0 1 2206 954"/><path d="M1764 1195A1200 1200 0 0 1 2171 1080"/>
<path d="M887 1401A1200 1200 0 0 1 880 1670"/><path d="M883 1779A1200 1200 0 0 1 1341 1897"/><path d="M887 1401A1200 1200 0 0 1 927 1538"/><path d="M880 1670A1200 1200 0 0 1 883 1779"/><path d="M880 1670A1200 1200 0 0 1 1161 1588"/><path d="M880 1670A1200 1200 0 0 1 1006 1840"/><path d="M883 1779A1200 1200 0 0 1 1006 1840"/>
</g>
<g class="e eb">
<path class="h" d="M1644 968A1200 1200 0 0 1 2206 954"/><path class="h" d="M1644 968A1200 1200 0 0 1 2171 1080"/><path class="m" d="M1644 968A1200 1200 0 0 1 2063 1022"/><path class="m" d="M1644 968A1200 1200 0 0 1 1606 1088"/><path d="M1644 968A1200 1200 0 0 1 1855 1110"/><path class="m" d="M1644 968A1200 1200 0 0 1 1993 644"/><path class="m" d="M1644 968A1200 1200 0 0 1 1999 721"/><path d="M1644 968A1200 1200 0 0 1 2079 730"/><path d="M1644 968A1200 1200 0 0 1 2172 645"/><path class="m" d="M1571 223A1200 1200 0 0 1 1644 968"/><path d="M1805 235A1200 1200 0 0 1 1644 968"/><path d="M1393 307A1200 1200 0 0 1 1644 968"/><path d="M1359 955A1200 1200 0 0 1 1644 968"/><path d="M1189 679A1200 1200 0 0 1 1644 968"/><path class="m" d="M1644 968A1200 1200 0 0 1 2559 1164"/><path d="M1644 968A1200 1200 0 0 1 2192 1400"/><path d="M1644 968A1200 1200 0 0 1 1778 1629"/><path d="M1644 968A1200 1200 0 0 1 1660 1601"/>
<path d="M1644 968A1200 1200 0 0 1 1187 1211"/><path d="M1644 968A1200 1200 0 0 1 1280 1384"/><path d="M1644 968A1200 1200 0 0 1 1357 1457"/><path d="M1644 968A1200 1200 0 0 1 916 1231"/><path d="M1644 968A1200 1200 0 0 1 993 1034"/><path d="M1644 968A1200 1200 0 0 1 844 1103"/><path d="M1644 968A1200 1200 0 0 1 727 1254"/><path d="M1644 968A1200 1200 0 0 1 786 812"/>
<path class="m" d="M2206 954A1200 1200 0 0 1 2171 1080"/><path d="M2206 954A1200 1200 0 0 1 2063 1022"/><path d="M1993 644A1200 1200 0 0 1 2206 954"/><path d="M1999 721A1200 1200 0 0 1 2206 954"/><path d="M2079 730A1200 1200 0 0 1 2206 954"/><path d="M2172 645A1200 1200 0 0 1 2206 954"/><path class="h" d="M2206 954A1200 1200 0 0 1 2559 1164"/><path d="M2206 954A1200 1200 0 0 1 2192 1400"/><path class="m" d="M1805 235A1200 1200 0 0 1 2206 954"/><path d="M1571 223A1200 1200 0 0 1 2206 954"/><path d="M2206 954A1200 1200 0 0 1 1606 1088"/><path d="M2206 954A1200 1200 0 0 1 1855 1110"/><path d="M2206 954A1200 1200 0 0 1 1756 906"/><path d="M2206 954A1200 1200 0 0 1 1848 1319"/><path d="M2206 954A1200 1200 0 0 1 1764 1195"/>
<path d="M2063 1022A1200 1200 0 0 1 2171 1080"/><path class="h" d="M2559 1164A1200 1200 0 0 1 2171 1080"/><path d="M2171 1080A1200 1200 0 0 1 2192 1400"/><path d="M1993 644A1200 1200 0 0 1 2171 1080"/><path d="M1999 721A1200 1200 0 0 1 2171 1080"/><path d="M2079 730A1200 1200 0 0 1 2171 1080"/><path d="M2172 645A1200 1200 0 0 1 2171 1080"/><path d="M2171 1080A1200 1200 0 0 1 1855 1110"/><path d="M2171 1080A1200 1200 0 0 1 1606 1088"/><path d="M1805 235A1200 1200 0 0 1 2171 1080"/><path d="M2171 1080A1200 1200 0 0 1 1764 1195"/><path d="M2171 1080A1200 1200 0 0 1 1848 1319"/><path d="M2171 1080A1200 1200 0 0 1 1806 1485"/><path d="M2171 1080A1200 1200 0 0 1 1675 1370"/><path d="M2171 1080A1200 1200 0 0 1 1569 1467"/><path d="M2171 1080A1200 1200 0 0 1 1778 1629"/>
<path d="M2559 1164A1200 1200 0 0 1 2063 1022"/><path d="M1999 721A1200 1200 0 0 1 2559 1164"/><path d="M2079 730A1200 1200 0 0 1 2559 1164"/><path d="M2172 645A1200 1200 0 0 1 2559 1164"/><path d="M1993 644A1200 1200 0 0 1 2559 1164"/><path d="M2559 1164A1200 1200 0 0 1 2192 1400"/><path class="m" d="M2559 1164A1200 1200 0 0 1 1606 1088"/><path d="M2559 1164A1200 1200 0 0 1 1806 1485"/><path d="M2559 1164A1200 1200 0 0 1 1855 1110"/><path d="M2559 1164A1200 1200 0 0 1 1764 1195"/><path d="M2559 1164A1200 1200 0 0 1 1848 1319"/><path class="m" d="M2559 1164A1200 1200 0 0 1 1644 968"/><path class="m" d="M2559 1164A1200 1200 0 0 1 2206 954"/>
<path d="M1571 223A1200 1200 0 0 1 1805 235"/><path d="M1393 307A1200 1200 0 0 1 1805 235"/><path d="M1805 235A1200 1200 0 0 1 1993 644"/><path d="M1805 235A1200 1200 0 0 1 2172 645"/><path d="M1805 235A1200 1200 0 0 1 1999 721"/><path d="M1805 235A1200 1200 0 0 1 2079 730"/><path d="M1805 235A1200 1200 0 0 1 2063 1022"/><path d="M1805 235A1200 1200 0 0 1 2559 1164"/><path d="M1805 235A1200 1200 0 0 1 1834 668"/><path d="M1805 235A1200 1200 0 0 1 1444 442"/><path d="M1805 235A1200 1200 0 0 1 1598 480"/><path d="M1805 235A1200 1200 0 0 1 1753 468"/><path d="M1805 235A1200 1200 0 0 1 1189 679"/>
<path d="M1571 223A1200 1200 0 0 1 1393 307"/><path d="M1571 223A1200 1200 0 0 1 1993 644"/><path d="M1571 223A1200 1200 0 0 1 1999 721"/><path d="M1102 558A1200 1200 0 0 1 1571 223"/><path d="M1571 223A1200 1200 0 0 1 2559 1164"/><path d="M1571 223A1200 1200 0 0 1 1444 442"/><path d="M1571 223A1200 1200 0 0 1 1598 480"/><path d="M1571 223A1200 1200 0 0 1 1753 468"/><path d="M1571 223A1200 1200 0 0 1 1189 679"/>
<path d="M1393 307A1200 1200 0 0 1 1999 721"/><path d="M1393 307A1200 1200 0 0 1 1993 644"/><path d="M1393 307A1200 1200 0 0 1 1189 679"/><path d="M1393 307A1200 1200 0 0 1 1102 558"/><path d="M1393 307A1200 1200 0 0 1 1444 442"/><path d="M1393 307A1200 1200 0 0 1 1598 480"/><path d="M1393 307A1200 1200 0 0 1 1753 468"/><path d="M1393 307A1200 1200 0 0 1 1560 628"/><path d="M1393 307A1200 1200 0 0 1 1834 668"/><path d="M1393 307A1200 1200 0 0 1 1606 1088"/>
<path d="M1993 644A1200 1200 0 0 1 1999 721"/><path d="M1993 644A1200 1200 0 0 1 2079 730"/><path d="M1993 644A1200 1200 0 0 1 2172 645"/><path d="M1993 644A1200 1200 0 0 1 2063 1022"/><path d="M1999 721A1200 1200 0 0 1 2079 730"/><path d="M1999 721A1200 1200 0 0 1 2063 1022"/><path d="M2079 730A1200 1200 0 0 1 2063 1022"/><path d="M2172 645A1200 1200 0 0 1 2063 1022"/><path d="M1993 644A1200 1200 0 0 1 1606 1088"/><path d="M1993 644A1200 1200 0 0 1 1855 1110"/><path d="M1999 721A1200 1200 0 0 1 1756 906"/><path d="M1999 721A1200 1200 0 0 1 1606 1088"/><path d="M2079 730A1200 1200 0 0 1 1855 1110"/>
<path d="M1606 1088A1200 1200 0 0 1 1855 1110"/><path d="M1359 955A1200 1200 0 0 1 1606 1088"/><path d="M1855 1110A1200 1200 0 0 1 2063 1022"/><path d="M2063 1022A1200 1200 0 0 1 2192 1400"/><path d="M2192 1400A1200 1200 0 0 1 1606 1088"/><path class="f" d="M2192 1400A1200 1200 0 0 1 1569 1467"/><path d="M1189 679A1200 1200 0 0 1 1359 955"/><path d="M1660 1601A1200 1200 0 0 1 1606 1088"/><path d="M1633 1810A1200 1200 0 0 1 2171 1080"/>
<path d="M1606 1088A1200 1200 0 0 1 2063 1022"/><path d="M1606 1088A1200 1200 0 0 1 1764 1195"/><path d="M1606 1088A1200 1200 0 0 1 1675 1370"/><path d="M1606 1088A1200 1200 0 0 1 1280 1384"/><path d="M1855 1110A1200 1200 0 0 1 1764 1195"/><path d="M1855 1110A1200 1200 0 0 1 1848 1319"/><path d="M1855 1110A1200 1200 0 0 1 1806 1485"/><path d="M1855 1110A1200 1200 0 0 1 1675 1370"/><path d="M1855 1110A1200 1200 0 0 1 1569 1467"/><path d="M2063 1022A1200 1200 0 0 1 1764 1195"/><path d="M2063 1022A1200 1200 0 0 1 1848 1319"/>
<path d="M2192 1400A1200 1200 0 0 1 1848 1319"/><path d="M2192 1400A1200 1200 0 0 1 1806 1485"/><path d="M2192 1400A1200 1200 0 0 1 1778 1629"/><path d="M2192 1400A1200 1200 0 0 1 1855 1110"/>
<path d="M1189 679A1200 1200 0 0 1 1606 1088"/><path d="M1359 955A1200 1200 0 0 1 844 1103"/><path d="M1359 955A1200 1200 0 0 1 993 1034"/><path d="M1359 955A1200 1200 0 0 1 1003 1330"/><path d="M1359 955A1200 1200 0 0 1 1187 1211"/><path d="M1660 1601A1200 1200 0 0 1 1764 1195"/><path d="M1660 1601A1200 1200 0 0 1 1675 1370"/>
<path class="f" d="M687 405A1200 1200 0 0 1 1805 235"/><path class="f" d="M572 433A1200 1200 0 0 1 1571 223"/><path class="f" d="M679 309A1200 1200 0 0 1 1805 235"/>
</g>
<g class="e ep">
<path d="M1444 442A1200 1200 0 0 1 1598 480"/><path d="M1444 442A1200 1200 0 0 1 1753 468"/><path d="M1444 442A1200 1200 0 0 1 1560 628"/><path d="M1444 442A1200 1200 0 0 1 1834 668"/><path d="M1102 558A1200 1200 0 0 1 1444 442"/><path d="M786 812A1200 1200 0 0 1 1444 442"/><path d="M1444 442A1200 1200 0 0 1 1170 1108"/><path d="M1444 442A1200 1200 0 0 1 1644 968"/><path d="M1444 442A1200 1200 0 0 1 1278 654"/><path d="M1444 442A1200 1200 0 0 1 1189 679"/><path d="M1444 442A1200 1200 0 0 1 861 519"/>
<path d="M1598 480A1200 1200 0 0 1 1753 468"/><path d="M1753 468A1200 1200 0 0 1 1834 668"/><path d="M1753 468A1200 1200 0 0 1 1560 628"/><path d="M1753 468A1200 1200 0 0 1 1999 721"/><path d="M1753 468A1200 1200 0 0 1 1644 968"/><path d="M1753 468A1200 1200 0 0 1 1756 906"/><path d="M1753 468A1200 1200 0 0 1 1993 644"/><path d="M1753 468A1200 1200 0 0 1 2206 954"/>
<path d="M1560 628A1200 1200 0 0 1 1834 668"/><path d="M1560 628A1200 1200 0 0 1 1756 906"/><path d="M1278 654A1200 1200 0 0 1 1560 628"/><path d="M1560 628A1200 1200 0 0 1 1644 968"/><path d="M1560 628A1200 1200 0 0 1 1606 1088"/><path d="M1560 628A1200 1200 0 0 1 1359 955"/><path d="M1560 628A1200 1200 0 0 1 1102 558"/><path d="M1560 628A1200 1200 0 0 1 806 663"/>
<path d="M1834 668A1200 1200 0 0 1 1993 644"/><path d="M1834 668A1200 1200 0 0 1 1999 721"/><path d="M1834 668A1200 1200 0 0 1 1756 906"/><path d="M1834 668A1200 1200 0 0 1 1644 968"/><path d="M1834 668A1200 1200 0 0 1 2063 1022"/><path d="M1834 668A1200 1200 0 0 1 2206 954"/><path d="M1834 668A1200 1200 0 0 1 2171 1080"/><path d="M1834 668A1200 1200 0 0 1 1102 558"/>
<path d="M1756 906A1200 1200 0 0 1 2206 954"/><path d="M1756 906A1200 1200 0 0 1 2063 1022"/><path class="m" d="M1644 968A1200 1200 0 0 1 1756 906"/><path d="M1756 906A1200 1200 0 0 1 1606 1088"/><path d="M1756 906A1200 1200 0 0 1 1855 1110"/><path d="M1756 906A1200 1200 0 0 1 2171 1080"/><path d="M1756 906A1200 1200 0 0 1 1102 558"/>
<path d="M1102 558A1200 1200 0 0 1 1278 654"/><path d="M1189 679A1200 1200 0 0 1 1278 654"/><path d="M1278 654A1200 1200 0 0 1 1644 968"/><path d="M1278 654A1200 1200 0 0 1 1359 955"/><path d="M1278 654A1200 1200 0 0 1 1606 1088"/><path d="M1278 654A1200 1200 0 0 1 1756 906"/>
<path d="M1598 480A1200 1200 0 0 1 1560 628"/><path d="M1598 480A1200 1200 0 0 1 1644 968"/><path d="M1102 558A1200 1200 0 0 1 1598 480"/><path d="M1102 558A1200 1200 0 0 1 1753 468"/><path d="M786 812A1200 1200 0 0 1 1834 668"/><path d="M806 663A1200 1200 0 0 1 1444 442"/><path d="M1598 480A1200 1200 0 0 1 1834 668"/><path d="M1598 480A1200 1200 0 0 1 1756 906"/><path d="M1598 480A1200 1200 0 0 1 786 812"/>
</g>
</g>
<g id="nodes">
<g id="n-r3"><circle class="nr" cx="890" cy="280" r="19"/></g>
<g id="n-r4"><circle class="nr" cx="863" cy="342" r="27"/></g>
<g id="n-r6"><circle class="nr" cx="1257" cy="333" r="19"/></g>
<g id="n-r7"><circle class="nr" cx="572" cy="433" r="31"/></g>
<g id="n-r10"><circle class="nr" cx="956" cy="469" r="23"/></g>
<g id="n-r13"><circle class="nr" cx="395" cy="621" r="27"/></g>
<g id="n-r16"><circle class="nr" cx="473" cy="758" r="21"/></g>
<g id="n-r19"><circle class="nr" cx="637" cy="845" r="25"/></g>
<g id="n-r20"><circle class="nr" cx="349" cy="874" r="29"/></g>
<g id="n-r22"><circle class="nr" cx="879" cy="906" r="26"/></g>
<g id="n-r26"><circle class="nr" cx="521" cy="1259" r="28"/></g>
<g id="n-g2"><circle class="ng" cx="715" cy="943" r="20"/></g>
<g id="n-g3"><circle class="ng" cx="993" cy="1034" r="20"/></g>
<g id="n-g4"><circle class="ng" cx="844" cy="1103" r="38"/></g>
<g id="n-g5"><circle class="ng" cx="1402" cy="1115" r="62"/></g>
<g id="n-y2"><circle class="ny" cx="1187" cy="1211" r="31"/></g>
<g id="n-g6"><circle class="ng" cx="916" cy="1231" r="23"/></g>
<g id="n-g10"><circle class="ng" cx="588" cy="1405" r="25"/></g>
<g id="n-y3"><circle class="ny" cx="887" cy="1401" r="21"/></g>
<g id="n-y4"><circle class="ny" cx="1280" cy="1384" r="30"/></g>
<g id="n-g11"><circle class="ng" cx="1675" cy="1370" r="25"/></g>
<g id="n-g15"><circle class="ng" cx="927" cy="1538" r="22"/></g>
<g id="n-g16"><circle class="ng" cx="1161" cy="1588" r="22"/></g>
<g id="n-b15"><circle class="nb" cx="1660" cy="1601" r="22"/></g>
<g id="n-g19"><circle class="ng" cx="1346" cy="1662" r="27"/></g>
<g id="n-y8"><circle class="ny" cx="880" cy="1670" r="20"/></g>
<g id="n-g20"><circle class="ng" cx="624" cy="1742" r="21"/></g>
<g id="n-y9"><circle class="ny" cx="883" cy="1779" r="24"/></g>
<g id="n-g21"><circle class="ng" cx="1006" cy="1840" r="19"/></g>
<g id="n-y11"><circle class="ny" cx="1633" cy="1810" r="22"/></g>
<g id="n-g23"><circle class="ng" cx="1247" cy="1873" r="18"/></g>
<g id="n-y12"><circle class="ny" cx="1341" cy="1897" r="22"/></g>
<g id="n-b2"><circle class="nb" cx="1805" cy="235" r="26"/></g>
<g id="n-p2"><circle class="np" cx="1598" cy="480" r="24"/></g>
<g id="n-p4"><circle class="np" cx="1560" cy="628" r="26"/></g>
<g id="n-p5"><circle class="np" cx="1278" cy="654" r="18"/></g>
<g id="n-b5"><circle class="nb" cx="1993" cy="644" r="30"/></g>
<g id="n-b6"><circle class="nb" cx="2172" cy="645" r="19"/></g>
<g id="n-b7"><circle class="nb" cx="1999" cy="721" r="32"/></g>
<g id="n-b8"><circle class="nb" cx="2079" cy="730" r="26"/></g>
<g id="n-p7"><circle class="np" cx="1756" cy="906" r="27"/></g>
<g id="n-b12"><circle class="nb" cx="2063" cy="1022" r="37"/></g>
<g id="n-b14"><circle class="nb" cx="1855" cy="1110" r="25"/></g>
<g id="n-sbmi"><circle class="nr" cx="861" cy="50" r="16"/><text x="861" y="66">sbmi</text></g>
<g id="n-sbm"><circle class="nr" cx="679" cy="309" r="20"/><text x="677" y="324">sbm</text></g>
<g id="n-practitioner"><circle class="nr" cx="1113" cy="326" r="18"/><text x="1113" y="342">practitioner</text></g>
<g id="n-sustainability"><circle class="nr" cx="687" cy="405" r="39"/><text x="687" y="420" style="font-size:59px">sustainability</text></g>
<g id="n-sustainable-development"><circle class="nr" cx="489" cy="496" r="19"/><text x="489" y="512">sustainable development</text></g>
<g id="n-gap"><circle class="nr" cx="861" cy="519" r="22"/><text x="861" y="532">gap</text></g>
<g id="n-literature"><circle class="nr" cx="1102" cy="558" r="45"/><text x="1102" y="573" style="font-size:61px">literature</text></g>
<g id="n-implementation"><circle class="nr" cx="806" cy="663" r="22"/><text x="806" y="677">implementation</text></g>
<g id="n-product-service-system"><circle class="nr" cx="306" cy="709" r="17"/><text x="305" y="721">product service system</text></g>
<g id="n-sector"><circle class="nr" cx="786" cy="812" r="34"/><text class="t60" x="786" y="821">sector</text></g>
<g id="n-adoption"><circle class="nr" cx="1130" cy="790" r="17"/><text x="1131" y="797">adoption</text></g>
<g id="n-value-proposition"><circle class="nr" cx="587" cy="900" r="26"/><text x="588" y="913">value proposition</text></g>
<g id="n-solution"><circle class="nr" cx="666" cy="1048" r="27"/><text x="667" y="1054">solution</text></g>
<g id="n-manufacturing"><circle class="nr" cx="354" cy="1113" r="22"/><text x="355" y="1125">manufacturing</text></g>
<g id="n-pattern"><circle class="nr" cx="327" cy="1238" r="26"/><text x="328" y="1250">pattern</text></g>
<g id="n-activity"><circle class="ng" cx="1387" cy="811" r="30"/><text class="t55" x="1387" y="828">activity</text></g>
<g id="n-business-model"><circle class="ny" cx="1170" cy="1108" r="68"/><text x="1177" y="1130" style="font-size:77px">business model</text></g>
<g id="n-product"><circle class="ng" cx="727" cy="1254" r="30"/><text class="t60" x="726" y="1271">product</text></g>
<g id="n-integration"><circle class="ng" cx="1003" cy="1330" r="21"/><text x="1007" y="1337">integration</text></g>
<g id="n-demand"><circle class="ng" cx="713" cy="1359" r="23"/><text x="716" y="1371">demand</text></g>
<g id="n-growth"><circle class="ng" cx="1848" cy="1319" r="33"/><text class="t55" x="1847" y="1336">growth</text></g>
<g id="n-service"><circle class="ng" cx="734" cy="1485" r="40"/><text x="735" y="1504" style="font-size:62px">service</text></g>
<g id="n-economy"><circle class="ny" cx="1357" cy="1457" r="28"/><text class="t55" x="1361" y="1476">economy</text></g>
<g id="n-data"><circle class="ny" cx="1569" cy="1467" r="33"/><text x="1569" y="1484" style="font-size:58px">data</text></g>
<g id="n-mechanism"><circle class="ng" cx="1806" cy="1485" r="27"/><text x="1805" y="1498">mechanism</text></g>
<g id="n-digitalization"><circle class="ny" cx="700" cy="1598" r="25"/><text x="699" y="1612">digitalization</text></g>
<g id="n-china"><circle class="ng" cx="1778" cy="1629" r="26"/><text x="1779" y="1642">china</text></g>
<g id="n-technology"><circle class="ng" cx="1119" cy="1670" r="49"/><text x="1122" y="1689" style="font-size:61px">technology</text></g>
<g id="n-internet"><circle class="ny" cx="739" cy="1818" r="27"/><text x="742" y="1831">internet</text></g>
<g id="n-technological-innovation"><circle class="ng" cx="1503" cy="1852" r="20"/><text x="1504" y="1864">technological innovation</text></g>
<g id="n-iot"><circle class="ny" cx="567" cy="1890" r="15"/><text x="568" y="1897">iot</text></g>
<g id="n-dynamic-capability"><circle class="nb" cx="1571" cy="223" r="24"/><text x="1579" y="239">dynamic capability</text></g>
<g id="n-driver"><circle class="nb" cx="1393" cy="307" r="25"/><text x="1394" y="323">driver</text></g>
<g id="n-startup"><circle class="np" cx="1444" cy="442" r="22"/><text x="1447" y="455">startup</text></g>
<g id="n-entrepreneur"><circle class="np" cx="1753" cy="468" r="24"/><text x="1752" y="483">entrepreneur</text></g>
<g id="n-collaboration"><circle class="nb" cx="1189" cy="679" r="22"/><text x="1190" y="690">collaboration</text></g>
<g id="n-competitive-advantage"><circle class="np" cx="1834" cy="668" r="26"/><text x="1834" y="680">competitive advantage</text></g>
<g id="n-interaction"><circle class="nb" cx="1359" cy="955" r="18"/><text x="1361" y="968">interaction</text></g>
<g id="n-bmi"><circle class="nb" cx="1644" cy="968" r="75"/><text x="1644" y="994" style="font-size:82px">bmi</text></g>
<g id="n-sme"><circle class="nb" cx="2206" cy="954" r="32"/><text x="2203" y="968" style="font-size:59px">sme</text></g>
<g id="n-knowledge"><circle class="nb" cx="1606" cy="1088" r="30"/><text x="1608" y="1095">knowledge</text></g>
<g id="n-performance"><circle class="nb" cx="2171" cy="1080" r="34"/><text x="2172" y="1095" style="font-size:59px">performance</text></g>
<g id="n-implication"><circle class="ny" cx="1764" cy="1195" r="29"/><text x="1765" y="1204">implication</text></g>
<g id="n-firm-performance"><circle class="nb" cx="2559" cy="1164" r="18"/><text x="2559" y="1177">firm performance</text></g>
<g id="n-open-innovation"><circle class="nb" cx="2192" cy="1400" r="16"/><text x="2190" y="1409">open innovation</text></g>
</g>
</svg>
